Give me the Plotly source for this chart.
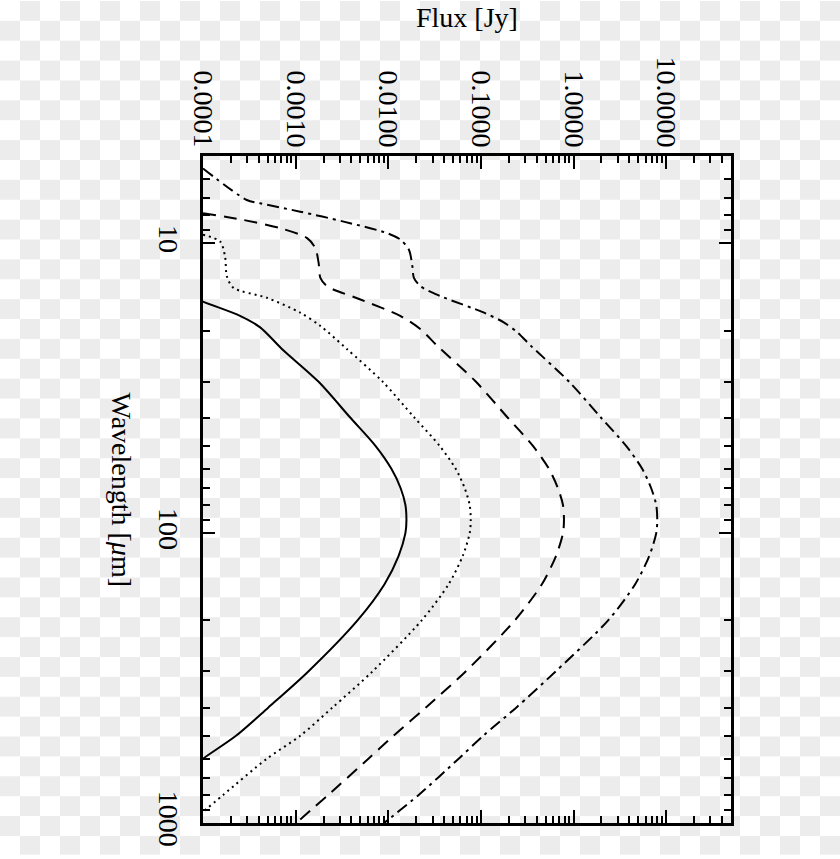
import base64
import plotly.graph_objects as go

# ---- data (wavelength in micron, flux in Jy) ----
lam_solid = [14.0, 15.9, 17.8, 19.5, 23.2, 30, 40, 50, 60, 70, 80, 90, 100, 120, 150, 200, 300, 400, 500, 600, 700]
flux_solid = [4.0e-5, 1.0e-4, 2.51e-4, 4.14e-4, 7.16e-4, 1.76e-3, 3.90e-3, 7.27e-3, 1.08e-2, 1.36e-2,
              1.53e-2, 1.57e-2, 1.53e-2, 1.29e-2, 9.1e-3, 4.65e-3, 1.37e-3, 5.05e-4, 2.27e-4, 1.0e-4, 5.5e-5]

lam_dot = [9.35, 9.86, 11.1, 13.0, 14.25, 15.42, 17.36, 19.29, 23.19, 30, 40, 50, 60, 70, 80, 90, 100,
           120, 150, 200, 300, 400, 500, 600, 800, 1000]
flux_dot = [1.0e-4, 1.53e-4, 1.73e-4, 1.81e-4, 2.13e-4, 4.89e-4, 1.12e-3, 1.85e-3, 3.59e-3, 8.66e-3,
            1.92e-2, 3.58e-2, 5.34e-2, 6.68e-2, 7.56e-2, 7.76e-2, 7.56e-2, 6.35e-2, 4.48e-2, 2.29e-2,
            6.75e-3, 2.49e-3, 1.12e-3, 4.9e-4, 1.65e-4, 7.2e-5]

lam_dash = [7.88, 8.31, 8.87, 9.60, 10.39, 11.69, 13.16, 14.07, 15.63, 17.83, 19.80, 22.59, 30, 40, 50,
            60, 70, 80, 90, 100, 120, 150, 200, 300, 400, 500, 600, 800, 1000]
flux_dash = [1.0e-4, 2.73e-4, 6.81e-4, 1.33e-3, 1.63e-3, 1.77e-3, 1.85e-3, 2.18e-3, 5.0e-3, 1.36e-2,
             2.23e-2, 3.38e-2, 8.79e-2, 0.195, 0.364, 0.542, 0.678, 0.768, 0.787, 0.768, 0.645, 0.455,
             0.232, 0.0684, 0.0253, 0.0114, 6.1e-3, 2.25e-3, 1.01e-3]

lam_dashdot = [5.52, 7.09, 7.28, 7.78, 8.42, 9.23, 9.73, 10.53, 12.02, 13.16, 14.07, 15.22, 17.36,
               18.78, 20.32, 22.59, 30, 40, 50, 60, 70, 80, 90, 100, 120, 150, 200, 300, 400, 500,
               600, 800, 1000]
flux_dashdot = [1.0e-4, 2.97e-4, 4.14e-4, 1.12e-3, 3.30e-3, 9.73e-3, 1.36e-2, 1.67e-2, 1.82e-2, 1.89e-2,
                2.23e-2, 3.67e-2, 0.108, 0.178, 0.248, 0.346, 0.891, 1.98, 3.69, 5.50, 6.88, 7.80, 8.0,
                7.80, 6.55, 4.62, 2.36, 0.64, 0.24, 0.106, 0.0575, 0.0213, 9.0e-3]

flux_ticks = [1e-4, 1e-3, 1e-2, 1e-1, 1, 10]
flux_ticktext = ["0.0001", "0.0010", "0.0100", "0.1000", "1.0000", "10.0000"]
lam_ticks = [10, 100, 1000]
lam_ticktext = ["10", "100", "1000"]

# ---- figure geometry ----
W, H = 840, 859
ML, MR, MT, MB = 203, 109, 156, 32
PW, PH = W - ML - MR, H - MT - MB
FONT = "Liberation Serif"

fig = go.Figure()
styles = [
    (lam_solid, flux_solid, "solid"),
    (lam_dot, flux_dot, "2px,4px"),
    (lam_dash, flux_dash, "13px,8px"),
    (lam_dashdot, flux_dashdot, "12px,5px,3px,5px"),
]
for lam, flux, dash in styles:
    fig.add_trace(go.Scatter(x=flux, y=lam, mode="lines",
                             line=dict(color="black", width=2, dash=dash, shape="spline", smoothing=0.8),
                             showlegend=False, hoverinfo="skip"))

def minor_vals(lo, hi):
    vals = []
    e = lo
    while 10 ** e <= hi:
        for d in range(2, 10):
            v = d * 10 ** e
            if v <= hi:
                vals.append(v)
        e += 1
    return vals

axis_common = dict(type="log", showgrid=False, zeroline=False, showline=True, linecolor="black",
                   linewidth=2.5, mirror="ticks", ticks="inside", tickwidth=2, tickcolor="black",
                   tickfont=dict(family=FONT, size=28, color="black"), tickangle=90)

fig.update_xaxes(**axis_common, side="top", range=[-4, 1.69897], tickmode="array",
                 tickvals=flux_ticks, ticktext=flux_ticktext, ticklen=13, ticklabelstandoff=-4,
                 minor=dict(ticks="inside", ticklen=7, tickwidth=2, tickcolor="black",
                            tickmode="array", tickvals=minor_vals(-4, 50)))
fig.update_yaxes(**axis_common, range=[3, 0.69897], tickmode="array",
                 tickvals=lam_ticks, ticktext=lam_ticktext, ticklen=12, ticklabelstandoff=8,
                 minor=dict(ticks="inside", ticklen=7, tickwidth=2, tickcolor="black",
                            tickmode="array", tickvals=minor_vals(0, 1000)))

svg = ('<svg xmlns="http://www.w3.org/2000/svg" width="%d" height="%d"><defs>'
       '<pattern id="p" width="40" height="40" patternUnits="userSpaceOnUse">'
       '<rect width="40" height="40" fill="#ffffff"/>'
       '<rect x="20" width="20" height="20" fill="#ececec"/>'
       '<rect y="20" width="20" height="20" fill="#ececec"/></pattern></defs>'
       '<rect width="%d" height="%d" fill="url(#p)"/></svg>') % (W, H, W, H)
src = "data:image/svg+xml;base64," + base64.b64encode(svg.encode()).decode()

fig.update_layout(
    width=W, height=H, autosize=False,
    margin=dict(l=ML, r=MR, t=MT, b=MB, pad=0),
    paper_bgcolor="white", plot_bgcolor="rgba(0,0,0,0)",
    images=[dict(source=src, xref="paper", yref="paper", x=-ML / PW, y=1 + MT / PH,
                 sizex=W / PW, sizey=H / PH, xanchor="left", yanchor="top",
                 sizing="stretch", layer="below")],
    annotations=[
        dict(text="Flux [Jy]", xref="paper", yref="paper", x=0.5, y=1 + (MT - 17) / PH,
             xanchor="center", yanchor="middle", showarrow=False,
             font=dict(family=FONT, size=28, color="black")),
        dict(text="Wavelength [<i>\u03bc</i>m]", xref="paper", yref="paper", x=(121 - ML) / PW, y=0.5,
             xanchor="center", yanchor="middle", textangle=90, showarrow=False,
             font=dict(family=FONT, size=28, color="black")),
    ],
)

fig.write_html("out.html", config={"displayModeBar": False},
               post_script="document.body.style.margin='0';document.body.style.overflow='hidden';")
